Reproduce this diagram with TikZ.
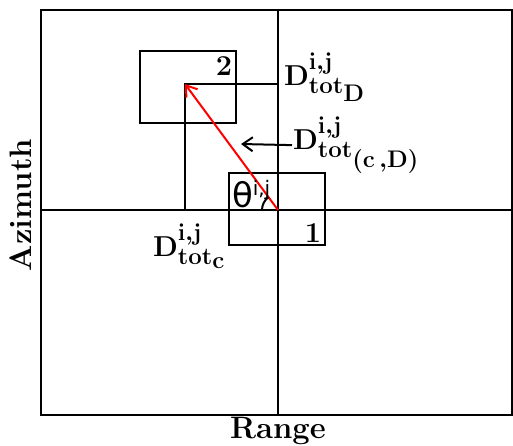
\documentclass[tikz,border=0pt]{standalone}
\usepackage{fontspec}
\newfontfamily\thetafont{DejaVu Sans}
\DeclareMathSizes{15}{15}{12}{11.5}
\newcommand{\sij}{\raisebox{2.5pt}{$\scriptstyle\mathbf{i,j}$}}
\usetikzlibrary{calc,arrows.meta}
\begin{document}
\begin{tikzpicture}[x=0.5pt,y=-0.5pt,line width=1pt,
  tip/.style={-{Straight Barb[length=5pt,width=7pt]}},
  lbl/.style={inner sep=0pt,font=\fontsize{15}{17}\selectfont\boldmath},
  axlbl/.style={inner sep=0pt,font=\fontsize{15.5}{18}\selectfont\bfseries}]
  \useasboundingbox (0,0) rectangle (513,445);
  \draw (41,10) rectangle (512,415);
  \draw (278,10) -- (278,415);
  \draw (41,210) -- (512,210);
  \draw (140,51) rectangle (236,123);
  \draw (229,173) rectangle (325,245);
  \coordinate (o) at (278,210);
  \coordinate (d) at (185,84);
  \coordinate (c) at (185,210);
  \coordinate (t) at (278,84);
  \draw (c) -- (d) -- (t);
  \draw[red,tip] (o) -- (d);
  \draw ($(o)+(-16,0)$) arc[start angle=180,end angle=233.6,radius=16];
  \node[lbl,anchor=base east] (n2) at (233,75) {$\mathbf{2}$};
  \node[lbl,anchor=base east] (n1) at (322,242) {$\mathbf{1}$};
  \node[lbl,anchor=base west] (dtotD) at (283,85) {$\mathbf{D}^{\sij}_{\mathbf{tot}_{\mathbf{D}}}$};
  \node[lbl,anchor=base west] (dtotCD) at (292,149) {$\mathbf{D}^{\sij}_{\mathbf{tot}_{(\mathbf{c}\,,\mathbf{D})}}$};
  \node[lbl,anchor=base west] (dtotC) at (152,256) {$\mathbf{D}^{\sij}_{\mathbf{tot}_{\mathbf{c}}}$};
  \node[inner sep=0pt,anchor=base west] (theta) at (231,207) {\fontsize{17}{19}\thetafont θ\fontsize{10}{12}\selectfont\raisebox{6pt}{i,j}};
  \coordinate (p) at (241,144);
  \draw[tip] (dtotCD.west) -- (p);
  \node[axlbl,rotate=90] (azimuth) at (21,205) {Azimuth};
  \node[axlbl,anchor=base] (range) at (278,438) {Range};
\end{tikzpicture}
\end{document}
